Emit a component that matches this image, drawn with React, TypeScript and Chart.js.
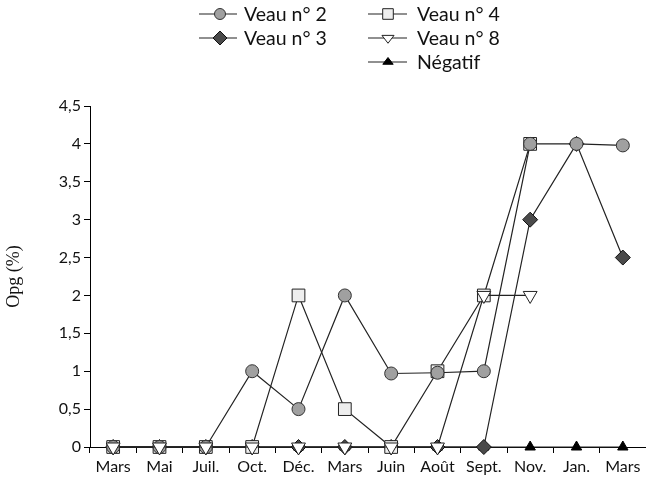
import React, { useEffect, useRef } from 'react';
import { Chart, registerables } from 'chart.js';
Chart.register(...registerables);

const categories = ['Mars', 'Mai', 'Juil.', 'Oct.', 'Déc.', 'Mars', 'Juin', 'Août', 'Sept.', 'Nov.', 'Jan.', 'Mars'];
const veau2 = [0, 0, 0, 1, 0.5, 2, 0.97, 0.98, 1, 4, 4, 3.98];
const veau3 = [0, 0, 0, 0, 0, 0, 0, 0, 0, 3, 4, 2.5];
const veau4 = [0, 0, 0, 0, 2, 0.5, 0, 1, 2, 4, null, null];
const veau8 = [0, 0, 0, 0, 0, 0, 0, 0, 2, 2, null, null];
const negatif = [0, 0, 0, 0, 0, 0, 0, 0, 0, 0, 0, 0];
const legendLabels = ['Veau n° 2', 'Veau n° 3', 'Veau n° 4', 'Veau n° 8', 'Négatif'];
const yAxisTitle = 'Opg (%)';
const yMin = 0;
const yMax = 4.5;
const yStep = 0.5;

const FONT = 'Lato';
const LINE = '#222222';

const styles = {
  v2: { shape: 'circle', r: 6.5, fill: '#a0a0a0', stroke: '#333333' },
  v3: { shape: 'rectRot', r: 7.5, fill: '#4a4a4a', stroke: '#111111' },
  v4: { shape: 'rect', r: 9, fill: '#eeeeee', stroke: '#222222' },
  v8: { shape: 'triDown', r: 8, fill: '#ffffff', stroke: '#222222' },
  neg: { shape: 'triUp', r: 6, fill: '#000000', stroke: '#000000' },
};

const legendStyles = {
  v2: { ...styles.v2, r: 5.5 },
  v3: { ...styles.v3, r: 7 },
  v4: { ...styles.v4, r: 7.5 },
  v8: { ...styles.v8, r: 7 },
  neg: { ...styles.neg, r: 6 },
};

function drawMarker(ctx: CanvasRenderingContext2D, st: any, x: number, y: number) {
  const r = st.r;
  ctx.save();
  ctx.beginPath();
  if (st.shape === 'circle') {
    ctx.arc(x, y, r, 0, Math.PI * 2);
  } else if (st.shape === 'rect') {
    const s = r * Math.SQRT1_2;
    ctx.rect(x - s, y - s, 2 * s, 2 * s);
  } else if (st.shape === 'rectRot') {
    ctx.moveTo(x, y - r);
    ctx.lineTo(x + r, y);
    ctx.lineTo(x, y + r);
    ctx.lineTo(x - r, y);
    ctx.closePath();
  } else {
    const dir = st.shape === 'triDown' ? 1 : -1;
    for (let i = 0; i < 3; i++) {
      const a = Math.PI / 2 + (i * 2 * Math.PI) / 3;
      const px = x + Math.cos(a) * r;
      const py = y + dir * Math.sin(a) * r * 0.75;
      if (i === 0) ctx.moveTo(px, py);
      else ctx.lineTo(px, py);
    }
    ctx.closePath();
  }
  ctx.fillStyle = st.fill;
  ctx.fill();
  ctx.strokeStyle = st.stroke;
  ctx.lineWidth = 1;
  ctx.stroke();
  ctx.restore();
}

const legendPlugin = {
  id: 'customLegend',
  afterDraw(chart: any) {
    const ctx = chart.ctx as CanvasRenderingContext2D;
    const items = [
      { st: legendStyles.v2, label: legendLabels[0], col: 0, row: 0 },
      { st: legendStyles.v3, label: legendLabels[1], col: 0, row: 1 },
      { st: legendStyles.v4, label: legendLabels[2], col: 1, row: 0 },
      { st: legendStyles.v8, label: legendLabels[3], col: 1, row: 1 },
      { st: legendStyles.neg, label: legendLabels[4], col: 1, row: 2 },
    ];
    const cols = [
      { x0: 199, x1: 237, mx: 220, tx: 244 },
      { x0: 368, x1: 407, mx: 388, tx: 417 },
    ];
    const rows = [14, 38, 62];
    ctx.save();
    ctx.font = `19.5px ${FONT}`;
    ctx.textBaseline = 'middle';
    ctx.textAlign = 'left';
    for (const it of items) {
      const c = cols[it.col];
      const y = rows[it.row];
      ctx.beginPath();
      ctx.moveTo(c.x0, y);
      ctx.lineTo(c.x1, y);
      ctx.strokeStyle = LINE;
      ctx.lineWidth = 1.2;
      ctx.stroke();
      drawMarker(ctx, it.st, c.mx, y);
      ctx.fillStyle = '#111111';
      ctx.fillText(it.label, c.tx, y + 1);
    }
    ctx.restore();
  },
};

function ds(label: string, data: (number | null)[], st: any, order: number) {
  const shapeMap: any = { circle: 'circle', rect: 'rect', rectRot: 'rectRot', triDown: 'triangle', triUp: 'triangle' };
  return {
    label,
    data,
    borderColor: LINE,
    borderWidth: 1.2,
    backgroundColor: st.fill,
    pointBackgroundColor: st.fill,
    pointBorderColor: st.stroke,
    pointBorderWidth: 1,
    pointStyle: shapeMap[st.shape],
    pointRotation: st.shape === 'triDown' ? 180 : 0,
    pointRadius: st.r,
    pointHoverRadius: st.r,
    tension: 0,
    fill: false,
    spanGaps: false,
    clip: false as any,
    order,
  };
}

export default function App() {
  const ref = useRef<HTMLCanvasElement>(null);
  useEffect(() => {
    if (!ref.current) return;
    const chart = new Chart(ref.current, {
      type: 'line',
      data: {
        labels: categories,
        datasets: [
          ds(legendLabels[0], veau2, styles.v2, 1),
          ds(legendLabels[1], veau3, styles.v3, 3),
          ds(legendLabels[2], veau4, styles.v4, 2),
          ds(legendLabels[3], veau8, styles.v8, 0),
          ds(legendLabels[4], negatif, styles.neg, 4),
        ] as any,
      },
      options: {
        animation: false,
        responsive: true,
        maintainAspectRatio: false,
        layout: { autoPadding: false, padding: { top: 106, right: 0, left: 0, bottom: 0 } },
        plugins: { legend: { display: false }, tooltip: { enabled: false } },
        scales: {
          x: {
            offset: true,
            border: { display: true, color: '#000', width: 1 },
            grid: { display: true, offset: true, drawOnChartArea: false, drawTicks: true, tickLength: 6, color: '#000' },
            ticks: { color: '#111', font: { family: FONT, size: 16 }, padding: 4, maxRotation: 0, autoSkip: false },
            afterFit: (s: any) => { s.height = 35; },
          },
          y: {
            min: yMin,
            max: yMax,
            border: { display: true, color: '#000', width: 1 },
            grid: { display: true, drawOnChartArea: false, drawTicks: true, tickLength: 6, color: '#000' },
            ticks: {
              stepSize: yStep,
              color: '#111',
              padding: 3,
              font: { family: FONT, size: 16 },
              callback: (v: any) => String(v).replace('.', ','),
            },
            title: { display: true, text: yAxisTitle, font: { family: 'Liberation Serif', size: 18 }, color: '#111', padding: 3 },
            afterFit: (s: any) => { s.width = 90; },
          },
        },
      },
      plugins: [legendPlugin],
    });
    return () => chart.destroy();
  }, []);
  return (
    <div style={{ position: 'fixed', left: 0, top: 0, width: 646, height: 482, background: '#fff' }}>
      <canvas ref={ref} />
    </div>
  );
}
